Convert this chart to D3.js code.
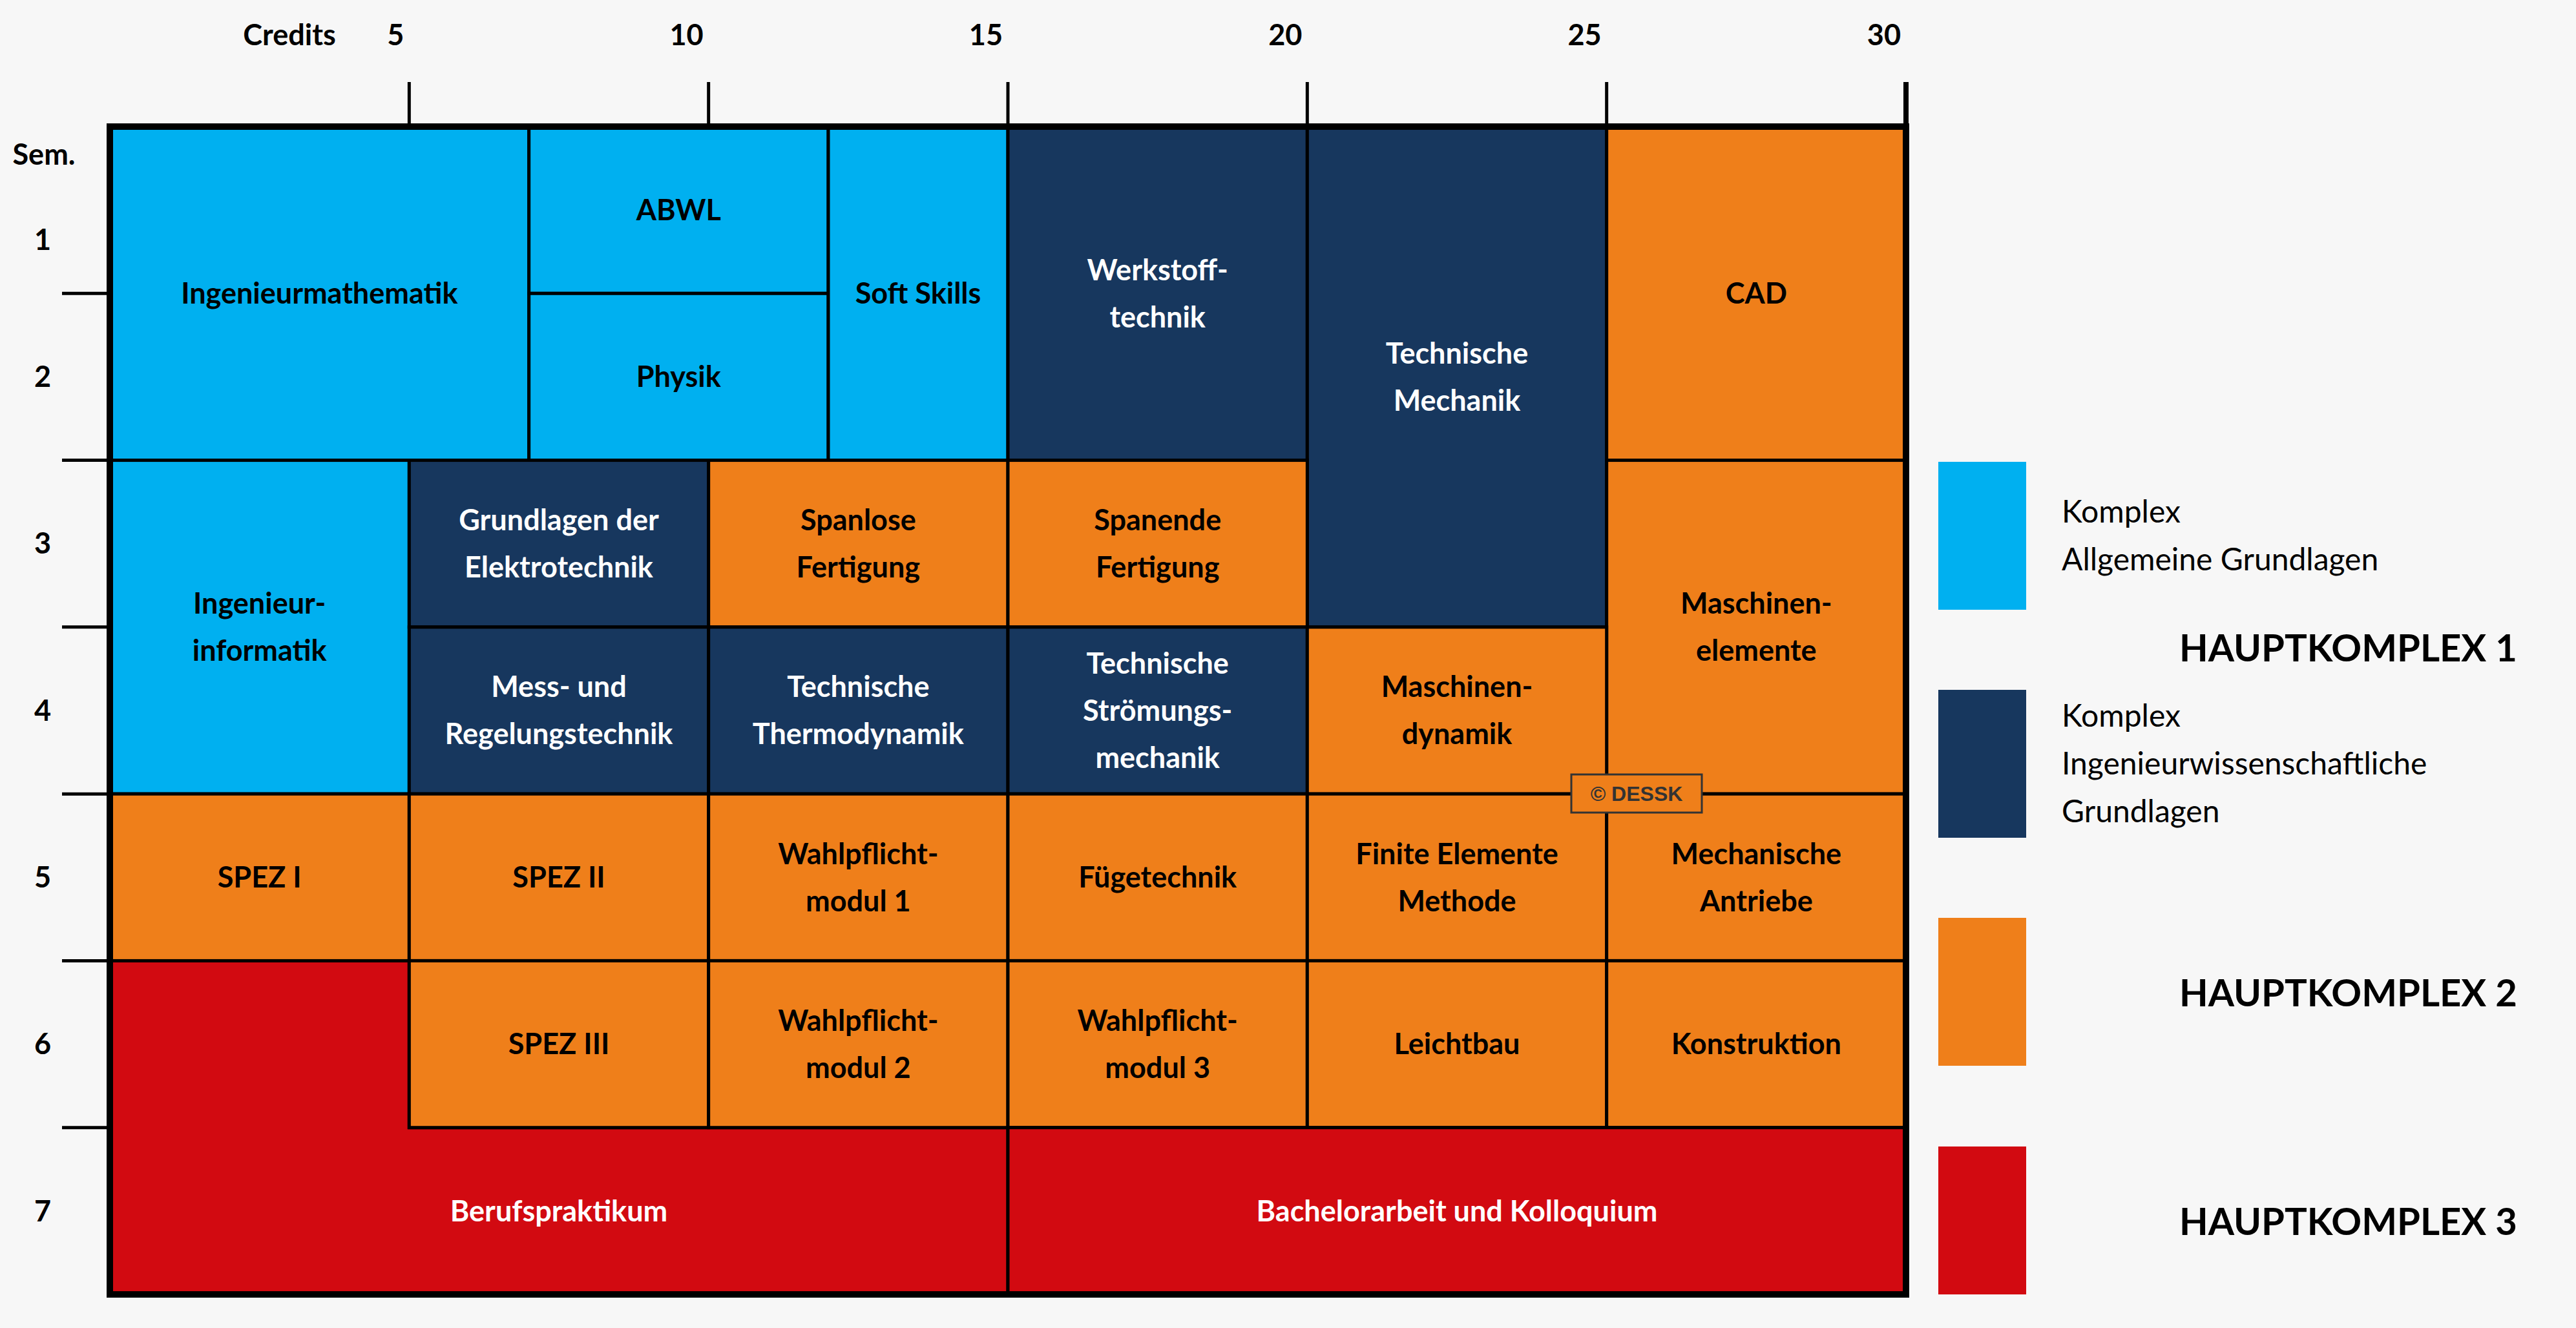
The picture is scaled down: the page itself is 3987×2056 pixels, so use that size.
<!DOCTYPE html>
<html><head><meta charset="utf-8">
<script src="https://cdn.jsdelivr.net/npm/d3@7"></script>
<style>body{margin:0;background:#F7F7F7}svg{display:block}</style>
</head><body>
<script>
const creditTicks=[5,10,15,20,25,30];
const semesters=["1","2","3","4","5","6","7"];
const groupColors={A:"#00B0F0",I:"#17375E",H2:"#EF7F1A",H3:"#D20A11"};
const textColors={A:"#000",I:"#fff",H2:"#000",H3:"#fff"};
// [label lines, group, credit start, credit end, sem start, sem end]
const modules=[
 [["Ingenieurmathematik"],"A",0,7,0,2],
 [["ABWL"],"A",7,12,0,1],
 [["Physik"],"A",7,12,1,2],
 [["Soft Skills"],"A",12,15,0,2],
 [["Werkstoff-","technik"],"I",15,20,0,2],
 [["Technische","Mechanik"],"I",20,25,0,3],
 [["CAD"],"H2",25,30,0,2],
 [["Ingenieur-","informatik"],"A",0,5,2,4],
 [["Grundlagen der","Elektrotechnik"],"I",5,10,2,3],
 [["Spanlose","Fertigung"],"H2",10,15,2,3],
 [["Spanende","Fertigung"],"H2",15,20,2,3],
 [["Maschinen-","elemente"],"H2",25,30,2,4],
 [["Mess- und","Regelungstechnik"],"I",5,10,3,4],
 [["Technische","Thermodynamik"],"I",10,15,3,4],
 [["Technische","Strömungs-","mechanik"],"I",15,20,3,4],
 [["Maschinen-","dynamik"],"H2",20,25,3,4],
 [["SPEZ I"],"H2",0,5,4,5],
 [["SPEZ II"],"H2",5,10,4,5],
 [["Wahlpflicht-","modul 1"],"H2",10,15,4,5],
 [["Fügetechnik"],"H2",15,20,4,5],
 [["Finite Elemente","Methode"],"H2",20,25,4,5],
 [["Mechanische","Antriebe"],"H2",25,30,4,5],
 [["SPEZ III"],"H2",5,10,5,6],
 [["Wahlpflicht-","modul 2"],"H2",10,15,5,6],
 [["Wahlpflicht-","modul 3"],"H2",15,20,5,6],
 [["Leichtbau"],"H2",20,25,5,6],
 [["Konstruktion"],"H2",25,30,5,6],
 [["Bachelorarbeit und Kolloquium"],"H3",15,30,6,7]
];
// L-shaped Berufspraktikum: polygon in (credit, semester)
const berufPoly=[[0,5],[5,5],[5,6],[15,6],[15,7],[0,7]];
const berufLabel={lines:["Berufspraktikum"],cx:7.5,cy:6.5};
const legend=[
 {g:"A",lines:["Komplex","Allgemeine Grundlagen"]},
 {g:"I",lines:["Komplex","Ingenieurwissenschaftliche","Grundlagen"]},
 {g:"H2",lines:[]},{g:"H3",lines:[]}];
const hauptLabels=["HAUPTKOMPLEX 1","HAUPTKOMPLEX 2","HAUPTKOMPLEX 3"];

const W=3987,H=2056;
const svg=d3.select("body").append("svg").attr("width",W).attr("height",H);
svg.append("rect").attr("width",W).attr("height",H).attr("fill","#F7F7F7");
const x=d3.scaleLinear().domain([0,30]).range([170,2950]);
const y=d3.scaleLinear().domain([0,7]).range([196,2004]);
const F="Lato, 'Open Sans', sans-serif";
const fs=45, lh=73;

function label(g,lines,cx,cy,col){
  const t=g.append("text").attr("x",cx).attr("text-anchor","middle")
   .attr("font-family",F).attr("font-weight","bold").attr("font-size",fs).attr("fill",col);
  const n=lines.length;
  lines.forEach((l,i)=>t.append("tspan").attr("x",cx).attr("y",cy+(i-(n-1)/2)*lh).attr("dy","0.35em").text(l));
}
const cg=svg.append("g");
cg.append("path").attr("d",d3.line().x(d=>x(d[0])).y(d=>y(d[1]))(berufPoly)+"Z")
 .attr("fill",groupColors.H3).attr("stroke","#000").attr("stroke-width",5);
label(cg,berufLabel.lines,x(berufLabel.cx),y(berufLabel.cy),textColors.H3);
modules.forEach(m=>{
  cg.append("rect").attr("x",x(m[2])).attr("y",y(m[4])).attr("width",x(m[3])-x(m[2])).attr("height",y(m[5])-y(m[4]))
   .attr("fill",groupColors[m[1]]).attr("stroke","#000").attr("stroke-width",5);
  label(cg,m[0],(x(m[2])+x(m[3]))/2,(y(m[4])+y(m[5]))/2,textColors[m[1]]);
});
// outer border
svg.append("rect").attr("x",x(0)).attr("y",y(0)).attr("width",x(30)-x(0)).attr("height",y(7)-y(0))
 .attr("fill","none").attr("stroke","#000").attr("stroke-width",10);

// top axis
const tg=svg.append("g").attr("font-family",F).attr("font-weight","bold").attr("font-size",45);
creditTicks.forEach(c=>{
  tg.append("line").attr("x1",x(c)).attr("x2",x(c)).attr("y1",127).attr("y2",y(0)).attr("stroke","#000").attr("stroke-width",c===30?8:5);
  tg.append("text").attr("x",x(c)-8).attr("y",70).attr("text-anchor","end").text(c);
});
tg.append("text").attr("x",448).attr("y",70).attr("text-anchor","middle").text("Credits");
// left axis
tg.append("text").attr("x",68).attr("y",255).attr("text-anchor","middle").text("Sem.");
semesters.forEach((s,i)=>{
  if(i>0) tg.append("line").attr("x1",96).attr("x2",x(0)).attr("y1",y(i)).attr("y2",y(i)).attr("stroke","#000").attr("stroke-width",5);
  const cy=i===0? y(0)+175 : (y(i)+y(i+1))/2;
  tg.append("text").attr("x",66).attr("y",cy).attr("dy","0.35em").attr("text-anchor","middle").text(s);
});

// watermark
const wg=svg.append("g");
wg.append("rect").attr("x",2432).attr("y",1199).attr("width",202).attr("height",59).attr("fill","#EF7F1A").attr("stroke","#333").attr("stroke-width",3);
wg.append("text").attr("x",2533).attr("y",1229).attr("dy","0.35em").attr("text-anchor","middle")
 .attr("font-family","Liberation Sans, Arial, sans-serif").attr("font-weight","bold").attr("font-size",32).attr("fill","#333").text("© DESSK");

// legend
const lg=svg.append("g").attr("font-family",F);
const legTops=[715,1068,1421,1775];
legend.forEach((d,i)=>{
  lg.append("rect").attr("x",3000).attr("y",legTops[i]).attr("width",136).attr("height",229).attr("fill",groupColors[d.g]);
  const n=d.lines.length, cy=legTops[i]+114;
  d.lines.forEach((l,j)=>lg.append("text").attr("x",3191).attr("y",cy+(j-(n-1)/2)*74).attr("dy","0.35em")
    .attr("font-size",48).attr("fill","#000").text(l));
});
const hy=[1004,1538,1892];
hauptLabels.forEach((t,i)=>lg.append("text").attr("x",3896).attr("y",hy[i]).attr("dy","0.35em").attr("text-anchor","end")
  .attr("font-size",58).attr("font-weight","bold").attr("fill","#000").text(t));
</script>
</body></html>
